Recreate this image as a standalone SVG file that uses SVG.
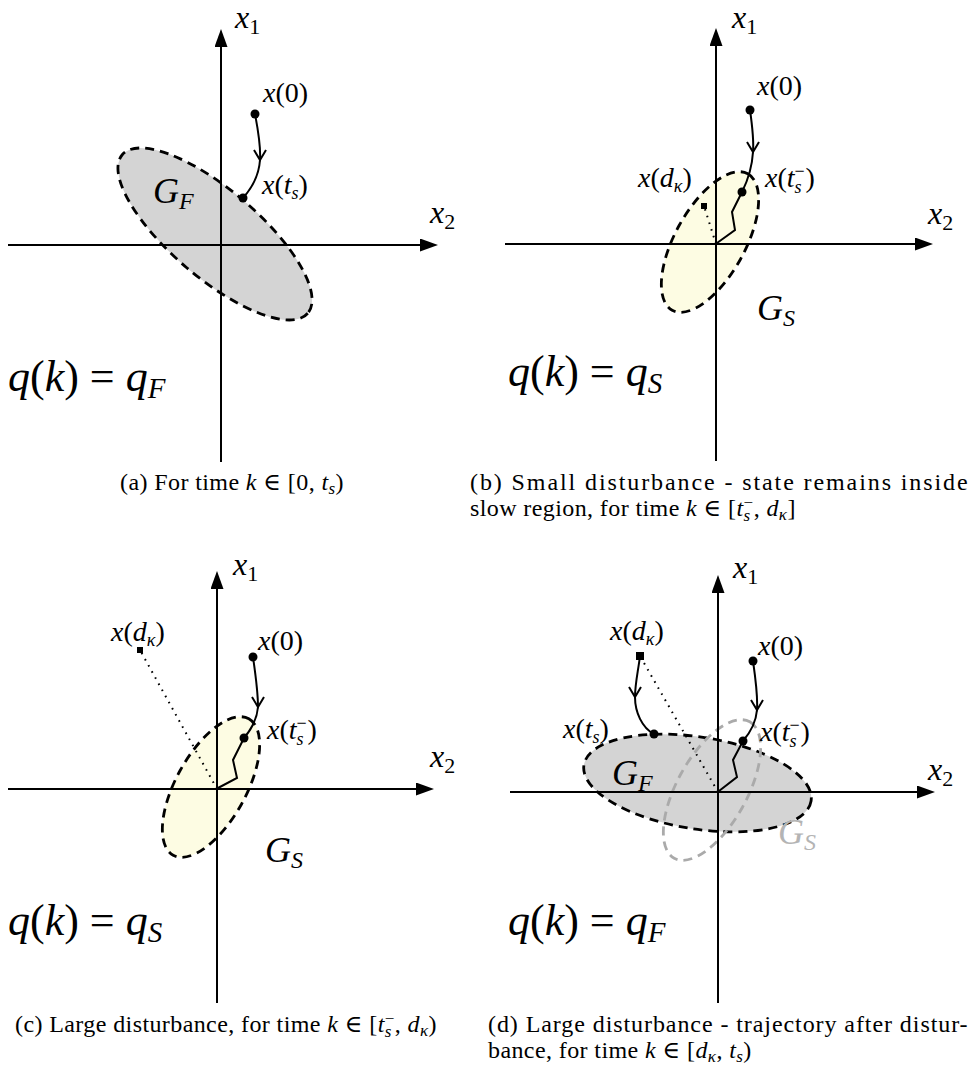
<svg xmlns="http://www.w3.org/2000/svg" width="972" height="1068" viewBox="0 0 972 1068" font-family="'Liberation Serif', 'DejaVu Serif', serif">
<style>
text, tspan{font-family:'Liberation Serif','DejaVu Serif',serif;fill:#000}
.it{font-style:italic}
.ax{stroke:#000;stroke-width:2;fill:none}
.ell{stroke:#000;stroke-width:2.8;stroke-dasharray:9 6}
.fF{fill:#d4d4d4}
.fS{fill:#fdfce3}
.ghost{fill:none;stroke:#aaa;stroke-width:2.8;stroke-dasharray:9 6}
.traj{fill:none;stroke:#000;stroke-width:2}
.dot{fill:#000}
.dotted{stroke:#000;stroke-width:2;stroke-dasharray:1.6 5.4;fill:none}
.lbl{font-size:28px}
.axl{font-size:32px}
.q{font-size:44px}
.G{font-size:36px;font-style:italic}
.cap{font-size:24px;letter-spacing:0.4px}
.gray{fill:#b4b4b4}
</style>
<defs>
<marker id="ah" markerUnits="userSpaceOnUse" markerWidth="18" markerHeight="13" refX="10" refY="6.5" orient="auto" viewBox="0 0 18 13">
<path d="M0,0 L18,6.5 L0,13 z" fill="#000"/>
</marker>
</defs>

<!-- Panel a -->
<g id="panel-a" transform="translate(221,245)">
<ellipse id="a-GF" class="fF ell" cx="-6" cy="-11" rx="122" ry="44" transform="rotate(40.5 -6 -11)"/>
<g id="a-axes">
<line class="ax" x1="0" y1="217" x2="0" y2="-208" marker-end="url(#ah)"/>
<line class="ax" x1="-213" y1="0" x2="209" y2="0" marker-end="url(#ah)"/>
</g>
<g id="a-traj">
<path class="traj" d="M34,-131 C37,-115 40,-100 39,-85 C38,-70 30,-56 22,-47"/>
<path class="traj" d="M33,-95 L39,-85 L45,-95"/>
<circle class="dot" cx="34" cy="-131" r="4.5"/>
<circle class="dot" cx="22" cy="-47" r="4.5"/>
</g>
<text class="axl" x="14" y="-217"><tspan class="it">x</tspan><tspan font-size="22" dy="6">1</tspan></text>
<text class="axl" x="209" y="-22"><tspan class="it">x</tspan><tspan font-size="22" dy="6">2</tspan></text>
<text class="lbl" x="42" y="-143"><tspan class="it">x</tspan>(0)</text>
<text class="lbl" x="41" y="-51"><tspan class="it">x</tspan>(<tspan class="it">t</tspan><tspan class="it" font-size="18" dy="5">s</tspan><tspan dy="-5">)</tspan></text>
<text class="G" x="-68" y="-42">G<tspan font-size="24" dy="6">F</tspan></text>
<text class="q" x="-213" y="146"><tspan class="it">q</tspan>(<tspan class="it">k</tspan>) = <tspan class="it">q</tspan><tspan class="it" font-size="29" dy="7">F</tspan></text>
</g>

<!-- Panel b -->
<g id="panel-b" transform="translate(716,244)">
<ellipse id="b-GS" class="fS ell" cx="-6" cy="-2" rx="78" ry="35" transform="rotate(-61 -6 -2)"/>
<g id="b-axes">
<line class="ax" x1="0" y1="217" x2="0" y2="-208" marker-end="url(#ah)"/>
<line class="ax" x1="-211" y1="0" x2="209" y2="0" marker-end="url(#ah)"/>
</g>
<g id="b-traj">
<line class="dotted" x1="0" y1="0" x2="-12" y2="-38"/>
<rect x="-15" y="-41" width="6" height="6" fill="#000"/>
<path class="traj" d="M34,-134 C36,-120 38,-105 37,-92 C36,-75 31,-62 26,-52 L16,-32 L19,-14 L1,-1"/>
<path class="traj" d="M31,-102 L37,-92 L43,-102"/>
<circle class="dot" cx="34" cy="-134" r="4.5"/>
<circle class="dot" cx="26" cy="-52" r="4.5"/>
</g>
<text class="axl" x="16" y="-216"><tspan class="it">x</tspan><tspan font-size="22" dy="6">1</tspan></text>
<text class="axl" x="212" y="-20"><tspan class="it">x</tspan><tspan font-size="22" dy="6">2</tspan></text>
<text class="lbl" x="41" y="-149"><tspan class="it">x</tspan>(0)</text>
<text class="lbl" x="-78" y="-57"><tspan class="it">x</tspan>(<tspan class="it">d</tspan><tspan class="it" font-size="18" dy="5">κ</tspan><tspan dy="-5">)</tspan></text>
<text class="lbl" x="49" y="-57"><tspan class="it">x</tspan>(<tspan class="it">t</tspan><tspan font-size="18" dy="-10">−</tspan><tspan class="it" font-size="18" dx="-10.2" dy="16">s</tspan><tspan dx="4" dy="-6">)</tspan></text>
<text class="G" x="41" y="76">G<tspan font-size="24" dy="6">S</tspan></text>
<text class="q" x="-208" y="142"><tspan class="it">q</tspan>(<tspan class="it">k</tspan>) = <tspan class="it">q</tspan><tspan class="it" font-size="29" dy="7">S</tspan></text>
</g>

<!-- Panel c -->
<g id="panel-c" transform="translate(217,789)">
<ellipse id="c-GS" class="fS ell" cx="-6" cy="-2" rx="78" ry="35" transform="rotate(-61 -6 -2)"/>
<g id="c-axes">
<line class="ax" x1="0" y1="214" x2="0" y2="-210" marker-end="url(#ah)"/>
<line class="ax" x1="-209" y1="0" x2="209" y2="0" marker-end="url(#ah)"/>
</g>
<g id="c-traj">
<line class="dotted" x1="0" y1="0" x2="-77" y2="-139"/>
<rect x="-80" y="-142" width="6" height="6" fill="#000"/>
<path class="traj" d="M36,-132 C38,-118 41,-98 41,-82 C40,-70 33,-58 27,-51 L16,-29 L20,-11 L1,-1"/>
<path class="traj" d="M35,-92 L41,-82 L47,-92"/>
<circle class="dot" cx="36" cy="-132" r="4.5"/>
<circle class="dot" cx="27" cy="-51" r="4.5"/>
</g>
<text class="axl" x="16" y="-214"><tspan class="it">x</tspan><tspan font-size="22" dy="6">1</tspan></text>
<text class="axl" x="213" y="-22"><tspan class="it">x</tspan><tspan font-size="22" dy="6">2</tspan></text>
<text class="lbl" x="-106" y="-148"><tspan class="it">x</tspan>(<tspan class="it">d</tspan><tspan class="it" font-size="18" dy="5">κ</tspan><tspan dy="-5">)</tspan></text>
<text class="lbl" x="41" y="-139"><tspan class="it">x</tspan>(0)</text>
<text class="lbl" x="50" y="-50"><tspan class="it">x</tspan>(<tspan class="it">t</tspan><tspan font-size="18" dy="-10">−</tspan><tspan class="it" font-size="18" dx="-10.2" dy="16">s</tspan><tspan dx="4" dy="-6">)</tspan></text>
<text class="G" x="48" y="73">G<tspan font-size="24" dy="6">S</tspan></text>
<text class="q" x="-209" y="146"><tspan class="it">q</tspan>(<tspan class="it">k</tspan>) = <tspan class="it">q</tspan><tspan class="it" font-size="29" dy="7">S</tspan></text>
</g>

<!-- Panel d -->
<g id="panel-d" transform="translate(718,792)">
<ellipse id="d-GF" class="fF ell" cx="-20.5" cy="-9" rx="115" ry="46" transform="rotate(9 -20.5 -9)"/>
<ellipse id="d-GS" class="ghost" cx="-6" cy="-2" rx="78" ry="35" transform="rotate(-61 -6 -2)"/>
<g id="d-axes">
<line class="ax" x1="0" y1="211" x2="0" y2="-209" marker-end="url(#ah)"/>
<line class="ax" x1="-208" y1="0" x2="209" y2="0" marker-end="url(#ah)"/>
</g>
<g id="d-traj">
<line class="dotted" x1="0" y1="0" x2="-78" y2="-136"/>
<rect x="-82" y="-140" width="8" height="8" fill="#000"/>
<path class="traj" d="M-78,-136 C-80,-120 -83,-108 -83,-95 C-83,-80 -76,-64 -64,-58"/>
<path class="traj" d="M-89,-105 L-83,-95 L-77,-105"/>
<path class="traj" d="M35,-131 C37,-117 40,-97 39,-82 C38,-70 31,-58 25,-51 L15,-32 L19,-15 L1,-1"/>
<path class="traj" d="M33,-92 L39,-82 L45,-92"/>
<circle class="dot" cx="35" cy="-131" r="4.5"/>
<circle class="dot" cx="25" cy="-51" r="4.5"/>
<circle class="dot" cx="-64" cy="-58" r="4.5"/>
</g>
<text class="axl" x="15" y="-214"><tspan class="it">x</tspan><tspan font-size="22" dy="6">1</tspan></text>
<text class="axl" x="210" y="-12"><tspan class="it">x</tspan><tspan font-size="22" dy="6">2</tspan></text>
<text class="lbl" x="-108" y="-152"><tspan class="it">x</tspan>(<tspan class="it">d</tspan><tspan class="it" font-size="18" dy="5">κ</tspan><tspan dy="-5">)</tspan></text>
<text class="lbl" x="40" y="-137"><tspan class="it">x</tspan>(0)</text>
<text class="lbl" x="-155" y="-54"><tspan class="it">x</tspan>(<tspan class="it">t</tspan><tspan class="it" font-size="18" dy="5">s</tspan><tspan dy="-5">)</tspan></text>
<text class="lbl" x="42" y="-51"><tspan class="it">x</tspan>(<tspan class="it">t</tspan><tspan font-size="18" dy="-10">−</tspan><tspan class="it" font-size="18" dx="-10.2" dy="16">s</tspan><tspan dx="4" dy="-6">)</tspan></text>
<text class="G" x="-106" y="-7">G<tspan font-size="24" dy="6">F</tspan></text>
<text class="G gray" x="60" y="52">G<tspan class="gray" font-size="24" dy="6">S</tspan></text>
<text class="q" x="-210" y="143"><tspan class="it">q</tspan>(<tspan class="it">k</tspan>) = <tspan class="it">q</tspan><tspan class="it" font-size="29" dy="7">F</tspan></text>
</g>

<!-- Captions -->
<g id="captions">
<text class="cap" x="232" y="490" text-anchor="middle">(a) For time <tspan class="it">k</tspan> ∈ [0, <tspan class="it">t</tspan><tspan class="it" font-size="17" dy="4">s</tspan><tspan dy="-4">)</tspan></text>
<text class="cap" x="470" y="490" textLength="498" lengthAdjust="spacing">(b) Small disturbance - state remains inside</text>
<text class="cap" x="470" y="516">slow region, for time <tspan class="it">k</tspan> ∈ [<tspan class="it">t</tspan><tspan font-size="17" dy="-8">−</tspan><tspan class="it" font-size="17" dx="-10" dy="13">s</tspan><tspan dx="3" dy="-5">, </tspan><tspan class="it">d</tspan><tspan class="it" font-size="17" dy="4">κ</tspan><tspan dy="-4">]</tspan></text>
<text class="cap" x="226" y="1032" text-anchor="middle">(c) Large disturbance, for time <tspan class="it">k</tspan> ∈ [<tspan class="it">t</tspan><tspan font-size="17" dy="-8">−</tspan><tspan class="it" font-size="17" dx="-10" dy="13">s</tspan><tspan dx="3" dy="-5">, </tspan><tspan class="it">d</tspan><tspan class="it" font-size="17" dy="4">κ</tspan><tspan dy="-4">)</tspan></text>
<text class="cap" x="488" y="1032" textLength="480" lengthAdjust="spacing">(d) Large disturbance - trajectory after distur-</text>
<text class="cap" x="488" y="1058">bance, for time <tspan class="it">k</tspan> ∈ [<tspan class="it">d</tspan><tspan class="it" font-size="17" dy="4">κ</tspan><tspan dy="-4">, </tspan><tspan class="it">t</tspan><tspan class="it" font-size="17" dy="4">s</tspan><tspan dy="-4">)</tspan></text>
</g>
</svg>
